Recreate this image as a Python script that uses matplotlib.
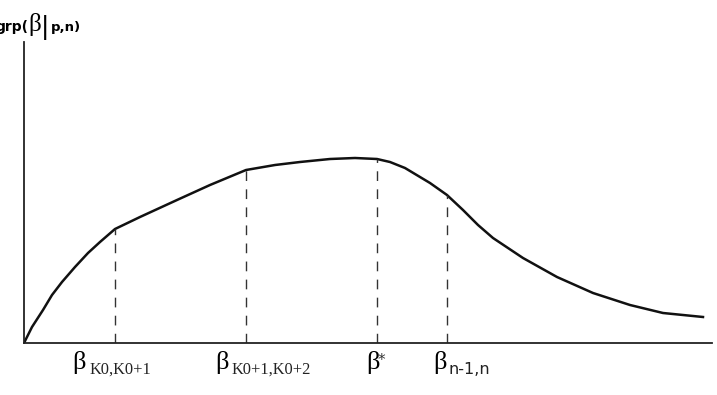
import numpy as np
import matplotlib.pyplot as plt

W, H = 717, 395

# curve (x from the y axis, height above the x axis)
beta = [0, 8, 19, 28, 38, 51, 64, 76, 91, 116, 153, 186, 222, 251, 276, 306,
        331, 353, 366, 381, 391, 406, 423, 439, 454, 469, 499, 533, 569, 606,
        639, 679]
g = [0, 16, 33, 48, 61, 76, 90, 101, 114, 126, 143, 158, 173, 178, 181, 184,
     185, 184, 181, 175, 169, 160, 148, 133, 118, 105, 85, 66, 50, 38, 30, 26]

# dashed marker positions and their labels
marks = [91, 222, 353, 423]
mark_sub = ['K0,K0+1', 'K0+1,K0+2', '*', 'n-1,n']

fig = plt.figure(figsize=(W / 100, H / 100), dpi=100)
ax = fig.add_axes([24 / W, 52 / H, 688 / W, 301 / H])
ax.set_xlim(0, 688)
ax.set_ylim(0, 301)
ax.plot(beta, g, color='#111111', lw=1.8, solid_joinstyle='round')

for m in marks:
    top = np.interp(m, beta, g)
    ax.plot([m, m], [0, top], color='#333333', lw=1.0, dashes=(7, 6))

for s in ['top', 'right']:
    ax.spines[s].set_visible(False)
for s in ['left', 'bottom']:
    ax.spines[s].set_linewidth(1.3)
    ax.spines[s].set_color('#222222')
ax.set_xticks([])
ax.set_yticks([])


def txt(x, y, s, **kw):
    # x, y in pixels from top-left of the picture
    fig.text(x / W, 1 - y / H, s, **kw)


serif = 'Liberation Serif'
sans = 'DejaVu Sans'

# beta labels under the axis
bx = [72, 215, 366, 433]
for x0, sub in zip(bx, mark_sub):
    txt(x0, 369, 'β', family=serif, fontsize=19, va='baseline', ha='left')
    if sub == '*':
        txt(x0 + 12, 365, '*', family=sans, fontsize=11, va='baseline',
            ha='left', color='#333333')
    elif sub.startswith('n'):
        txt(x0 + 15, 374, sub, family=sans, fontsize=11.5, va='baseline',
            ha='left', color='#222222')
    else:
        txt(x0 + 17, 374, sub, family=serif, fontsize=11.8, va='baseline',
            ha='left', color='#222222')

# axis title at top left
txt(28, 31, 'grp(', family=sans, fontsize=10, fontweight='bold',
    va='baseline', ha='right')
txt(28, 31, 'β', family=serif, fontsize=18, va='baseline', ha='left')
txt(41, 34, '|', family=sans, fontsize=18, va='baseline', ha='left')
txt(51, 31, 'p,n)', family=sans, fontsize=9.5, fontweight='bold',
    va='baseline', ha='left')

fig.savefig('out.png', dpi=100)
